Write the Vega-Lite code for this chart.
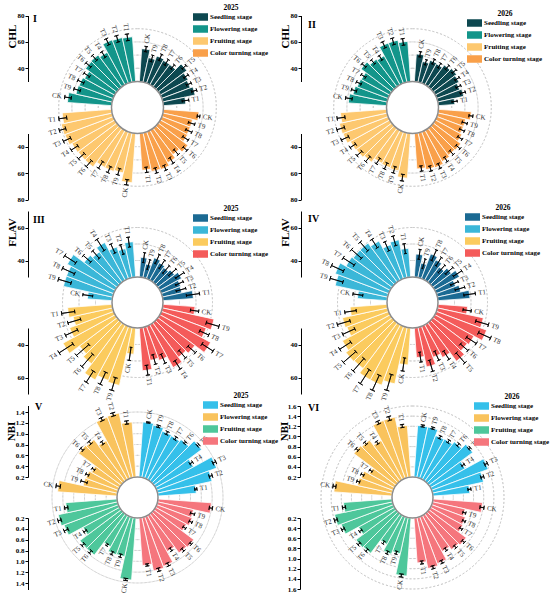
{
"$schema":"https://vega.github.io/schema/vega-lite/v6.json",
"padding":{"left":0,"top":4,"right":0,"bottom":0},
"background":"white",
"bounds":"flush",
"spacing":0,
"columns":2,
"resolve":{"scale":{"color":"independent","theta":"independent","radius":"independent","angle":"independent","x":"independent","y":"independent"},"legend":{"color":"independent"}},
"config":{"view":{"stroke":null},"font":"Liberation Serif",
"axis":{"domainColor":"black","domainWidth":1,"tickColor":"black","tickSize":3,"tickWidth":1,"labelFont":"Liberation Serif","labelFontWeight":"bold","labelFontSize":7,"labelColor":"black","labelPadding":1,"grid":false,"titleFont":"Liberation Serif","titleFontSize":11,"titleFontWeight":"bold","titleColor":"black","labelOverlap":false,"labelFlush":false,"titleAngle":-90,"titleAlign":"center","titleBaseline":"middle"},
"legend":{"labelFont":"Liberation Serif","labelFontWeight":"bold","labelFontSize":7,"labelColor":"black","titleFont":"Liberation Serif","titleFontWeight":"bold","titleFontSize":7.5,"titleColor":"black","titleAnchor":"middle","titlePadding":-2,"rowPadding":-4,"labelOffset":2,"padding":0,"symbolStrokeWidth":0,"symbolOpacity":1},
"title":{"font":"Liberation Serif","fontSize":10,"fontWeight":"bold","color":"black"},
"text":{"font":"Liberation Serif"}},
"datasets":{
"ringsCHL":[{"g":40},{"g":50},{"g":60},{"g":70}],
"ringsFLAV":[{"g":40},{"g":50},{"g":60}],
"ringsV":[{"g":0.4},{"g":0.6},{"g":0.8},{"g":1.0},{"g":1.2},{"g":1.4}],
"ringsVI":[{"g":0.4},{"g":0.6},{"g":0.8},{"g":1.0},{"g":1.2},{"g":1.4},{"g":1.6}],
"I":[
{"s":"Seedling stage","k":"SCK","t":"CK","v":55,"lo":53,"hi":57},
{"s":"Seedling stage","k":"ST9","t":"T9","v":49,"lo":46.5,"hi":51.5},
{"s":"Seedling stage","k":"ST8","t":"T8","v":52,"lo":49.5,"hi":54.5},
{"s":"Seedling stage","k":"ST7","t":"T7","v":51,"lo":48.5,"hi":53.5},
{"s":"Seedling stage","k":"ST6","t":"T6","v":51,"lo":49,"hi":53},
{"s":"Seedling stage","k":"ST5","t":"T5","v":57,"lo":55,"hi":59},
{"s":"Seedling stage","k":"ST4","t":"T4","v":54,"lo":52,"hi":56},
{"s":"Seedling stage","k":"ST3","t":"T3","v":53,"lo":51,"hi":55},
{"s":"Seedling stage","k":"ST2","t":"T2","v":55,"lo":53,"hi":57},
{"s":"Seedling stage","k":"ST1","t":"T1","v":47,"lo":44.5,"hi":49.5},
{"s":"Color turning stage","k":"CCK","t":"CK","v":57,"lo":56,"hi":58},
{"s":"Color turning stage","k":"CT9","t":"T9","v":53,"lo":50.5,"hi":55.5},
{"s":"Color turning stage","k":"CT8","t":"T8","v":53,"lo":50.5,"hi":55.5},
{"s":"Color turning stage","k":"CT7","t":"T7","v":53.5,"lo":51,"hi":56},
{"s":"Color turning stage","k":"CT6","t":"T6","v":58,"lo":56,"hi":60},
{"s":"Color turning stage","k":"CT5","t":"T5","v":55,"lo":52.5,"hi":57.5},
{"s":"Color turning stage","k":"CT4","t":"T4","v":58,"lo":55.5,"hi":60.5},
{"s":"Color turning stage","k":"CT3","t":"T3","v":60.5,"lo":58.5,"hi":62.5},
{"s":"Color turning stage","k":"CT2","t":"T2","v":60,"lo":58,"hi":62},
{"s":"Color turning stage","k":"CT1","t":"T1","v":58,"lo":56,"hi":60},
{"s":"Fruiting stage","k":"RCK","t":"CK","v":67.5,"lo":65.5,"hi":69.5},
{"s":"Fruiting stage","k":"RT9","t":"T9","v":61,"lo":58.5,"hi":63.5},
{"s":"Fruiting stage","k":"RT8","t":"T8","v":62,"lo":59.5,"hi":64.5},
{"s":"Fruiting stage","k":"RT7","t":"T7","v":62,"lo":59,"hi":65},
{"s":"Fruiting stage","k":"RT6","t":"T6","v":66.5,"lo":63.5,"hi":69.5},
{"s":"Fruiting stage","k":"RT5","t":"T5","v":66.5,"lo":63.5,"hi":69.5},
{"s":"Fruiting stage","k":"RT4","t":"T4","v":67,"lo":64,"hi":70},
{"s":"Fruiting stage","k":"RT3","t":"T3","v":69,"lo":66,"hi":72},
{"s":"Fruiting stage","k":"RT2","t":"T2","v":69.5,"lo":67,"hi":72},
{"s":"Fruiting stage","k":"RT1","t":"T1","v":67.5,"lo":64.5,"hi":70.5},
{"s":"Flowering stage","k":"FCK","t":"CK","v":63.5,"lo":61,"hi":66},
{"s":"Flowering stage","k":"FT9","t":"T9","v":58,"lo":55.5,"hi":60.5},
{"s":"Flowering stage","k":"FT8","t":"T8","v":57.5,"lo":55,"hi":60},
{"s":"Flowering stage","k":"FT7","t":"T7","v":56,"lo":53.5,"hi":58.5},
{"s":"Flowering stage","k":"FT6","t":"T6","v":59.5,"lo":57,"hi":62},
{"s":"Flowering stage","k":"FT5","t":"T5","v":60,"lo":57.5,"hi":62.5},
{"s":"Flowering stage","k":"FT4","t":"T4","v":58,"lo":55.5,"hi":60.5},
{"s":"Flowering stage","k":"FT3","t":"T3","v":65,"lo":62.5,"hi":67.5},
{"s":"Flowering stage","k":"FT2","t":"T2","v":64.5,"lo":62,"hi":67},
{"s":"Flowering stage","k":"FT1","t":"T1","v":64,"lo":61.5,"hi":66.5}
],
"II":[
{"s":"Seedling stage","k":"SCK","t":"CK","v":51,"lo":49,"hi":53},
{"s":"Seedling stage","k":"ST9","t":"T9","v":46,"lo":44,"hi":48},
{"s":"Seedling stage","k":"ST8","t":"T8","v":48.5,"lo":46.5,"hi":50.5},
{"s":"Seedling stage","k":"ST7","t":"T7","v":48,"lo":46,"hi":50},
{"s":"Seedling stage","k":"ST6","t":"T6","v":50.5,"lo":48.5,"hi":52.5},
{"s":"Seedling stage","k":"ST5","t":"T5","v":52,"lo":50,"hi":54},
{"s":"Seedling stage","k":"ST4","t":"T4","v":50.5,"lo":48.5,"hi":52.5},
{"s":"Seedling stage","k":"ST3","t":"T3","v":48.5,"lo":46.5,"hi":50.5},
{"s":"Seedling stage","k":"ST2","t":"T2","v":50,"lo":48,"hi":52},
{"s":"Seedling stage","k":"ST1","t":"T1","v":42.5,"lo":40.5,"hi":44.5},
{"s":"Color turning stage","k":"CCK","t":"CK","v":55,"lo":53.5,"hi":56.5},
{"s":"Color turning stage","k":"CT9","t":"T9","v":51.5,"lo":49.5,"hi":53.5},
{"s":"Color turning stage","k":"CT8","t":"T8","v":51.5,"lo":49.5,"hi":53.5},
{"s":"Color turning stage","k":"CT7","t":"T7","v":53,"lo":51,"hi":55},
{"s":"Color turning stage","k":"CT6","t":"T6","v":56,"lo":54,"hi":58},
{"s":"Color turning stage","k":"CT5","t":"T5","v":55.5,"lo":53.5,"hi":57.5},
{"s":"Color turning stage","k":"CT4","t":"T4","v":57,"lo":55,"hi":59},
{"s":"Color turning stage","k":"CT3","t":"T3","v":59,"lo":57,"hi":61},
{"s":"Color turning stage","k":"CT2","t":"T2","v":58.5,"lo":56.5,"hi":60.5},
{"s":"Color turning stage","k":"CT1","t":"T1","v":57,"lo":55,"hi":59},
{"s":"Fruiting stage","k":"RCK","t":"CK","v":64,"lo":61.5,"hi":66.5},
{"s":"Fruiting stage","k":"RT9","t":"T9","v":59.5,"lo":57,"hi":62},
{"s":"Fruiting stage","k":"RT8","t":"T8","v":59,"lo":56.5,"hi":61.5},
{"s":"Fruiting stage","k":"RT7","t":"T7","v":58.5,"lo":56,"hi":61},
{"s":"Fruiting stage","k":"RT6","t":"T6","v":62,"lo":59.5,"hi":64.5},
{"s":"Fruiting stage","k":"RT5","t":"T5","v":63.5,"lo":61,"hi":66},
{"s":"Fruiting stage","k":"RT4","t":"T4","v":64,"lo":61.5,"hi":66.5},
{"s":"Fruiting stage","k":"RT3","t":"T3","v":66.5,"lo":63.5,"hi":69.5},
{"s":"Fruiting stage","k":"RT2","t":"T2","v":67,"lo":64,"hi":70},
{"s":"Fruiting stage","k":"RT1","t":"T1","v":65,"lo":62,"hi":68},
{"s":"Flowering stage","k":"FCK","t":"CK","v":59,"lo":56.5,"hi":61.5},
{"s":"Flowering stage","k":"FT9","t":"T9","v":56.5,"lo":54.5,"hi":58.5},
{"s":"Flowering stage","k":"FT8","t":"T8","v":55,"lo":53,"hi":57},
{"s":"Flowering stage","k":"FT7","t":"T7","v":54.5,"lo":52.5,"hi":56.5},
{"s":"Flowering stage","k":"FT6","t":"T6","v":59,"lo":57,"hi":61},
{"s":"Flowering stage","k":"FT5","t":"T5","v":56,"lo":54,"hi":58},
{"s":"Flowering stage","k":"FT4","t":"T4","v":55,"lo":53,"hi":57},
{"s":"Flowering stage","k":"FT3","t":"T3","v":62.5,"lo":60,"hi":65},
{"s":"Flowering stage","k":"FT2","t":"T2","v":62.5,"lo":60,"hi":65},
{"s":"Flowering stage","k":"FT1","t":"T1","v":60.5,"lo":58,"hi":63}
],
"III":[
{"s":"Seedling stage","k":"SCK","t":"CK","v":42,"lo":39,"hi":45},
{"s":"Seedling stage","k":"ST9","t":"T9","v":38.5,"lo":35.5,"hi":41.5},
{"s":"Seedling stage","k":"ST8","t":"T8","v":43.5,"lo":40.5,"hi":46.5},
{"s":"Seedling stage","k":"ST7","t":"T7","v":42,"lo":39,"hi":45},
{"s":"Seedling stage","k":"ST6","t":"T6","v":41,"lo":38,"hi":44},
{"s":"Seedling stage","k":"ST5","t":"T5","v":42.5,"lo":39.5,"hi":45.5},
{"s":"Seedling stage","k":"ST4","t":"T4","v":45,"lo":42,"hi":48},
{"s":"Seedling stage","k":"ST3","t":"T3","v":42.5,"lo":40,"hi":45},
{"s":"Seedling stage","k":"ST2","t":"T2","v":42,"lo":39,"hi":45},
{"s":"Seedling stage","k":"ST1","t":"T1","v":48.5,"lo":44.5,"hi":52.5},
{"s":"Color turning stage","k":"CCK","t":"CK","v":49.5,"lo":47,"hi":52},
{"s":"Color turning stage","k":"CT9","t":"T9","v":62,"lo":58,"hi":66},
{"s":"Color turning stage","k":"CT8","t":"T8","v":59,"lo":56,"hi":62},
{"s":"Color turning stage","k":"CT7","t":"T7","v":65,"lo":61,"hi":69},
{"s":"Color turning stage","k":"CT6","t":"T6","v":58,"lo":55,"hi":61},
{"s":"Color turning stage","k":"CT5","t":"T5","v":56,"lo":53,"hi":59},
{"s":"Color turning stage","k":"CT4","t":"T4","v":59.5,"lo":56.5,"hi":62.5},
{"s":"Color turning stage","k":"CT3","t":"T3","v":52,"lo":49,"hi":55},
{"s":"Color turning stage","k":"CT2","t":"T2","v":50.5,"lo":47.5,"hi":53.5},
{"s":"Color turning stage","k":"CT1","t":"T1","v":56,"lo":53,"hi":59},
{"s":"Fruiting stage","k":"RCK","t":"CK","v":46,"lo":42,"hi":50},
{"s":"Fruiting stage","k":"RT9","t":"T9","v":66,"lo":62,"hi":70},
{"s":"Fruiting stage","k":"RT8","t":"T8","v":65,"lo":61,"hi":69},
{"s":"Fruiting stage","k":"RT7","t":"T7","v":68,"lo":64,"hi":72},
{"s":"Fruiting stage","k":"RT6","t":"T6","v":61,"lo":56,"hi":66},
{"s":"Fruiting stage","k":"RT5","t":"T5","v":58.5,"lo":53.5,"hi":63.5},
{"s":"Fruiting stage","k":"RT4","t":"T4","v":66,"lo":61,"hi":71},
{"s":"Fruiting stage","k":"RT3","t":"T3","v":58.5,"lo":54.5,"hi":62.5},
{"s":"Fruiting stage","k":"RT2","t":"T2","v":54.5,"lo":50.5,"hi":58.5},
{"s":"Fruiting stage","k":"RT1","t":"T1","v":57,"lo":53,"hi":61},
{"s":"Flowering stage","k":"FCK","t":"CK","v":45,"lo":42,"hi":48},
{"s":"Flowering stage","k":"FT9","t":"T9","v":60.5,"lo":56.5,"hi":64.5},
{"s":"Flowering stage","k":"FT8","t":"T8","v":60.5,"lo":56.5,"hi":64.5},
{"s":"Flowering stage","k":"FT7","t":"T7","v":63,"lo":59,"hi":67},
{"s":"Flowering stage","k":"FT6","t":"T6","v":55,"lo":52,"hi":58},
{"s":"Flowering stage","k":"FT5","t":"T5","v":53,"lo":50,"hi":56},
{"s":"Flowering stage","k":"FT4","t":"T4","v":56,"lo":52,"hi":60},
{"s":"Flowering stage","k":"FT3","t":"T3","v":50.5,"lo":47.5,"hi":53.5},
{"s":"Flowering stage","k":"FT2","t":"T2","v":48,"lo":45,"hi":51},
{"s":"Flowering stage","k":"FT1","t":"T1","v":51.5,"lo":48.5,"hi":54.5}
],
"IV":[
{"s":"Seedling stage","k":"SCK","t":"CK","v":44,"lo":41,"hi":47},
{"s":"Seedling stage","k":"ST9","t":"T9","v":39,"lo":36,"hi":42},
{"s":"Seedling stage","k":"ST8","t":"T8","v":46,"lo":42.5,"hi":49.5},
{"s":"Seedling stage","k":"ST7","t":"T7","v":44,"lo":41,"hi":47},
{"s":"Seedling stage","k":"ST6","t":"T6","v":41.5,"lo":38.5,"hi":44.5},
{"s":"Seedling stage","k":"ST5","t":"T5","v":44,"lo":41,"hi":47},
{"s":"Seedling stage","k":"ST4","t":"T4","v":47,"lo":44,"hi":50},
{"s":"Seedling stage","k":"ST3","t":"T3","v":42.5,"lo":40,"hi":45},
{"s":"Seedling stage","k":"ST2","t":"T2","v":44.5,"lo":41.5,"hi":47.5},
{"s":"Seedling stage","k":"ST1","t":"T1","v":49.5,"lo":46,"hi":53},
{"s":"Color turning stage","k":"CCK","t":"CK","v":48,"lo":45.5,"hi":50.5},
{"s":"Color turning stage","k":"CT9","t":"T9","v":58.5,"lo":54.5,"hi":62.5},
{"s":"Color turning stage","k":"CT8","t":"T8","v":62.5,"lo":58.5,"hi":66.5},
{"s":"Color turning stage","k":"CT7","t":"T7","v":57,"lo":53.5,"hi":60.5},
{"s":"Color turning stage","k":"CT6","t":"T6","v":56,"lo":53,"hi":59},
{"s":"Color turning stage","k":"CT5","t":"T5","v":59,"lo":55,"hi":63},
{"s":"Color turning stage","k":"CT4","t":"T4","v":52.5,"lo":49.5,"hi":55.5},
{"s":"Color turning stage","k":"CT3","t":"T3","v":50,"lo":47,"hi":53},
{"s":"Color turning stage","k":"CT2","t":"T2","v":54.5,"lo":51,"hi":58},
{"s":"Color turning stage","k":"CT1","t":"T1","v":48,"lo":45,"hi":51},
{"s":"Fruiting stage","k":"RCK","t":"CK","v":52.5,"lo":48.5,"hi":56.5},
{"s":"Fruiting stage","k":"RT9","t":"T9","v":65,"lo":60,"hi":70},
{"s":"Fruiting stage","k":"RT8","t":"T8","v":68,"lo":63,"hi":73},
{"s":"Fruiting stage","k":"RT7","t":"T7","v":68,"lo":63,"hi":73},
{"s":"Fruiting stage","k":"RT6","t":"T6","v":64.5,"lo":59.5,"hi":69.5},
{"s":"Fruiting stage","k":"RT5","t":"T5","v":65,"lo":60,"hi":70},
{"s":"Fruiting stage","k":"RT4","t":"T4","v":63,"lo":59,"hi":67},
{"s":"Fruiting stage","k":"RT3","t":"T3","v":57,"lo":53,"hi":61},
{"s":"Fruiting stage","k":"RT2","t":"T2","v":58,"lo":54,"hi":62},
{"s":"Fruiting stage","k":"RT1","t":"T1","v":52.5,"lo":49,"hi":56},
{"s":"Flowering stage","k":"FCK","t":"CK","v":48,"lo":45,"hi":51},
{"s":"Flowering stage","k":"FT9","t":"T9","v":62.5,"lo":58.5,"hi":66.5},
{"s":"Flowering stage","k":"FT8","t":"T8","v":64.5,"lo":60.5,"hi":68.5},
{"s":"Flowering stage","k":"FT7","t":"T7","v":60.5,"lo":56.5,"hi":64.5},
{"s":"Flowering stage","k":"FT6","t":"T6","v":59.5,"lo":55.5,"hi":63.5},
{"s":"Flowering stage","k":"FT5","t":"T5","v":59.5,"lo":56,"hi":63},
{"s":"Flowering stage","k":"FT4","t":"T4","v":57,"lo":54,"hi":60},
{"s":"Flowering stage","k":"FT3","t":"T3","v":52,"lo":49,"hi":55},
{"s":"Flowering stage","k":"FT2","t":"T2","v":53.5,"lo":50.5,"hi":56.5},
{"s":"Flowering stage","k":"FT1","t":"T1","v":47.5,"lo":44.5,"hi":50.5}
],
"V":[
{"s":"Seedling stage","k":"SCK","t":"CK","v":1.22,"lo":1.21,"hi":1.23},
{"s":"Seedling stage","k":"ST9","t":"T9","v":1.19,"lo":1.17,"hi":1.21},
{"s":"Seedling stage","k":"ST8","t":"T8","v":1.13,"lo":1.1,"hi":1.16},
{"s":"Seedling stage","k":"ST7","t":"T7","v":1.12,"lo":1.09,"hi":1.15},
{"s":"Seedling stage","k":"ST6","t":"T6","v":1.16,"lo":1.14,"hi":1.18},
{"s":"Seedling stage","k":"ST5","t":"T5","v":1.3,"lo":1.28,"hi":1.32},
{"s":"Seedling stage","k":"ST4","t":"T4","v":1.0,"lo":0.97,"hi":1.03},
{"s":"Seedling stage","k":"ST3","t":"T3","v":1.38,"lo":1.35,"hi":1.41},
{"s":"Seedling stage","k":"ST2","t":"T2","v":1.23,"lo":1.2,"hi":1.26},
{"s":"Seedling stage","k":"ST1","t":"T1","v":0.91,"lo":0.89,"hi":0.93},
{"s":"Color turning stage","k":"CCK","t":"CK","v":1.19,"lo":1.16,"hi":1.22},
{"s":"Color turning stage","k":"CT9","t":"T9","v":0.88,"lo":0.84,"hi":0.92},
{"s":"Color turning stage","k":"CT8","t":"T8","v":0.9,"lo":0.87,"hi":0.93},
{"s":"Color turning stage","k":"CT7","t":"T7","v":0.85,"lo":0.82,"hi":0.88},
{"s":"Color turning stage","k":"CT6","t":"T6","v":1.12,"lo":1.1,"hi":1.14},
{"s":"Color turning stage","k":"CT5","t":"T5","v":1.1,"lo":1.07,"hi":1.13},
{"s":"Color turning stage","k":"CT4","t":"T4","v":0.96,"lo":0.93,"hi":0.99},
{"s":"Color turning stage","k":"CT3","t":"T3","v":1.18,"lo":1.15,"hi":1.21},
{"s":"Color turning stage","k":"CT2","t":"T2","v":1.21,"lo":1.18,"hi":1.24},
{"s":"Color turning stage","k":"CT1","t":"T1","v":1.08,"lo":1.06,"hi":1.1},
{"s":"Fruiting stage","k":"RCK","t":"CK","v":1.35,"lo":1.33,"hi":1.37},
{"s":"Fruiting stage","k":"RT9","t":"T9","v":0.94,"lo":0.91,"hi":0.97},
{"s":"Fruiting stage","k":"RT8","t":"T8","v":0.95,"lo":0.92,"hi":0.98},
{"s":"Fruiting stage","k":"RT7","t":"T7","v":0.86,"lo":0.84,"hi":0.88},
{"s":"Fruiting stage","k":"RT6","t":"T6","v":1.15,"lo":1.12,"hi":1.18},
{"s":"Fruiting stage","k":"RT5","t":"T5","v":1.15,"lo":1.12,"hi":1.18},
{"s":"Fruiting stage","k":"RT4","t":"T4","v":0.97,"lo":0.94,"hi":1.0},
{"s":"Fruiting stage","k":"RT3","t":"T3","v":1.27,"lo":1.23,"hi":1.31},
{"s":"Fruiting stage","k":"RT2","t":"T2","v":1.32,"lo":1.29,"hi":1.35},
{"s":"Fruiting stage","k":"RT1","t":"T1","v":1.15,"lo":1.12,"hi":1.18},
{"s":"Flowering stage","k":"FCK","t":"CK","v":1.3,"lo":1.26,"hi":1.34},
{"s":"Flowering stage","k":"FT9","t":"T9","v":0.85,"lo":0.79,"hi":0.91},
{"s":"Flowering stage","k":"FT8","t":"T8","v":0.84,"lo":0.81,"hi":0.87},
{"s":"Flowering stage","k":"FT7","t":"T7","v":0.79,"lo":0.76,"hi":0.82},
{"s":"Flowering stage","k":"FT6","t":"T6","v":1.18,"lo":1.15,"hi":1.21},
{"s":"Flowering stage","k":"FT5","t":"T5","v":1.16,"lo":1.13,"hi":1.19},
{"s":"Flowering stage","k":"FT4","t":"T4","v":1.02,"lo":0.99,"hi":1.05},
{"s":"Flowering stage","k":"FT3","t":"T3","v":1.41,"lo":1.38,"hi":1.44},
{"s":"Flowering stage","k":"FT2","t":"T2","v":1.42,"lo":1.39,"hi":1.45},
{"s":"Flowering stage","k":"FT1","t":"T1","v":1.22,"lo":1.19,"hi":1.25}
],
"VI":[
{"s":"Seedling stage","k":"SCK","t":"CK","v":1.22,"lo":1.2,"hi":1.24},
{"s":"Seedling stage","k":"ST9","t":"T9","v":1.22,"lo":1.2,"hi":1.24},
{"s":"Seedling stage","k":"ST8","t":"T8","v":1.1,"lo":1.07,"hi":1.13},
{"s":"Seedling stage","k":"ST7","t":"T7","v":1.11,"lo":1.08,"hi":1.14},
{"s":"Seedling stage","k":"ST6","t":"T6","v":1.17,"lo":1.14,"hi":1.2},
{"s":"Seedling stage","k":"ST5","t":"T5","v":1.28,"lo":1.26,"hi":1.3},
{"s":"Seedling stage","k":"ST4","t":"T4","v":0.98,"lo":0.95,"hi":1.01},
{"s":"Seedling stage","k":"ST3","t":"T3","v":1.39,"lo":1.36,"hi":1.42},
{"s":"Seedling stage","k":"ST2","t":"T2","v":1.23,"lo":1.2,"hi":1.26},
{"s":"Seedling stage","k":"ST1","t":"T1","v":0.93,"lo":0.9,"hi":0.96},
{"s":"Color turning stage","k":"CCK","t":"CK","v":1.18,"lo":1.14,"hi":1.22},
{"s":"Color turning stage","k":"CT9","t":"T9","v":0.86,"lo":0.83,"hi":0.89},
{"s":"Color turning stage","k":"CT8","t":"T8","v":0.91,"lo":0.88,"hi":0.94},
{"s":"Color turning stage","k":"CT7","t":"T7","v":0.93,"lo":0.9,"hi":0.96},
{"s":"Color turning stage","k":"CT6","t":"T6","v":1.12,"lo":1.09,"hi":1.15},
{"s":"Color turning stage","k":"CT5","t":"T5","v":1.08,"lo":1.05,"hi":1.11},
{"s":"Color turning stage","k":"CT4","t":"T4","v":1.01,"lo":0.98,"hi":1.04},
{"s":"Color turning stage","k":"CT3","t":"T3","v":1.19,"lo":1.16,"hi":1.22},
{"s":"Color turning stage","k":"CT2","t":"T2","v":1.23,"lo":1.2,"hi":1.26},
{"s":"Color turning stage","k":"CT1","t":"T1","v":1.09,"lo":1.06,"hi":1.12},
{"s":"Fruiting stage","k":"RCK","t":"CK","v":1.35,"lo":1.32,"hi":1.38},
{"s":"Fruiting stage","k":"RT9","t":"T9","v":0.93,"lo":0.9,"hi":0.96},
{"s":"Fruiting stage","k":"RT8","t":"T8","v":0.99,"lo":0.96,"hi":1.02},
{"s":"Fruiting stage","k":"RT7","t":"T7","v":0.85,"lo":0.82,"hi":0.88},
{"s":"Fruiting stage","k":"RT6","t":"T6","v":1.17,"lo":1.14,"hi":1.2},
{"s":"Fruiting stage","k":"RT5","t":"T5","v":1.19,"lo":1.16,"hi":1.22},
{"s":"Fruiting stage","k":"RT4","t":"T4","v":1.01,"lo":0.98,"hi":1.04},
{"s":"Fruiting stage","k":"RT3","t":"T3","v":1.3,"lo":1.27,"hi":1.33},
{"s":"Fruiting stage","k":"RT2","t":"T2","v":1.37,"lo":1.34,"hi":1.4},
{"s":"Fruiting stage","k":"RT1","t":"T1","v":1.16,"lo":1.13,"hi":1.19},
{"s":"Flowering stage","k":"FCK","t":"CK","v":1.35,"lo":1.32,"hi":1.38},
{"s":"Flowering stage","k":"FT9","t":"T9","v":0.91,"lo":0.88,"hi":0.94},
{"s":"Flowering stage","k":"FT8","t":"T8","v":0.88,"lo":0.85,"hi":0.91},
{"s":"Flowering stage","k":"FT7","t":"T7","v":0.77,"lo":0.74,"hi":0.8},
{"s":"Flowering stage","k":"FT6","t":"T6","v":1.24,"lo":1.21,"hi":1.27},
{"s":"Flowering stage","k":"FT5","t":"T5","v":1.21,"lo":1.18,"hi":1.24},
{"s":"Flowering stage","k":"FT4","t":"T4","v":1.08,"lo":1.05,"hi":1.11},
{"s":"Flowering stage","k":"FT3","t":"T3","v":1.42,"lo":1.39,"hi":1.45},
{"s":"Flowering stage","k":"FT2","t":"T2","v":1.42,"lo":1.38,"hi":1.46},
{"s":"Flowering stage","k":"FT1","t":"T1","v":1.22,"lo":1.19,"hi":1.25}
]
},
"concat":[
{"width":275,"height":195,"data":{"name":"I"},
"title":{"text":"I","anchor":"start","frame":"group","orient":"top","offset":-20,"dx":33},
"layer":[
{"data":{"name":"ringsCHL"},"mark":{"type":"arc","fillOpacity":0,"stroke":"#c4c4c4","strokeWidth":0.7,"strokeDash":[2,2]},"encoding":{"theta":{"value":0},"theta2":{"value":6.2832},"radius":{"field":"g","type":"quantitative","stack":null,"scale":{"type":"linear","domain":[30,80],"range":[26,92],"zero":false,"nice":false}},"radius2":{"field":"g"}}},
{"mark":{"type":"arc","stroke":"white","strokeWidth":0.8},"encoding":{"theta":{"field":"k","type":"nominal","scale":{"type":"band","domain":["g0","SCK","ST9","ST8","ST7","ST6","ST5","ST4","ST3","ST2","ST1","g1","CCK","CT9","CT8","CT7","CT6","CT5","CT4","CT3","CT2","CT1","g2","RCK","RT9","RT8","RT7","RT6","RT5","RT4","RT3","RT2","RT1","g3","FCK","FT9","FT8","FT7","FT6","FT5","FT4","FT3","FT2","FT1"],"range":[-0.0714,6.2118],"paddingInner":0,"paddingOuter":0}},"radius":{"field":"v","type":"quantitative","stack":null,"scale":{"type":"linear","domain":[30,80],"range":[26,92],"zero":false,"nice":false}},"radius2":{"value":26},
"color":{"field":"s","type":"nominal","scale":{"domain":["Seedling stage","Flowering stage","Fruiting stage","Color turning stage"],"range":["#0d4850","#13958a","#fdc86f","#f9a04a"]},"legend":{"orient":"none","legendX":193,"legendY":-6,"title":"2025","symbolType":"M-1,-0.5H1V0.5H-1Z","symbolSize":225}}}},
{"mark":{"type":"arc","padAngle":0.6,"stroke":"black","strokeWidth":0.8,"fill":"black"},"encoding":{"theta":{"field":"k","type":"nominal"},"radius":{"field":"lo","type":"quantitative","stack":null},"radius2":{"field":"hi"}}},
{"mark":{"type":"arc","padAngle":0.06,"stroke":"black","strokeWidth":0.8,"fillOpacity":0},"encoding":{"theta":{"field":"k","type":"nominal"},"radius":{"field":"lo","type":"quantitative","stack":null},"radius2":{"field":"lo"}}},
{"mark":{"type":"arc","padAngle":0.06,"stroke":"black","strokeWidth":0.8,"fillOpacity":0},"encoding":{"theta":{"field":"k","type":"nominal"},"radius":{"field":"hi","type":"quantitative","stack":null},"radius2":{"field":"hi"}}},
{"transform":[{"filter":"datum.s == 'Seedling stage' || datum.s == 'Color turning stage'"}],"mark":{"type":"text","align":"left","baseline":"middle","radiusOffset":3,"fontSize":7,"fill":"#333"},"encoding":{"theta":{"field":"k","type":"nominal"},"radius":{"field":"hi","type":"quantitative","stack":null},"angle":{"field":"k","type":"ordinal","scale":{"type":"point","domain":["g0","SCK","ST9","ST8","ST7","ST6","ST5","ST4","ST3","ST2","ST1","g1","CCK","CT9","CT8","CT7","CT6","CT5","CT4","CT3","CT2","CT1","g2","RCK","RT9","RT8","RT7","RT6","RT5","RT4","RT3","RT2","RT1","g3","FCK","FT9","FT8","FT7","FT6","FT5","FT4","FT3","FT2","FT1"],"range":[-94.09,265.91],"padding":0.5}},"text":{"field":"t"}}},
{"transform":[{"filter":"datum.s == 'Fruiting stage' || datum.s == 'Flowering stage'"}],"mark":{"type":"text","align":"right","baseline":"middle","radiusOffset":3,"fontSize":7,"fill":"#333"},"encoding":{"theta":{"field":"k","type":"nominal"},"radius":{"field":"hi","type":"quantitative","stack":null},"angle":{"field":"k","type":"ordinal","scale":{"type":"point","domain":["g0","SCK","ST9","ST8","ST7","ST6","ST5","ST4","ST3","ST2","ST1","g1","CCK","CT9","CT8","CT7","CT6","CT5","CT4","CT3","CT2","CT1","g2","RCK","RT9","RT8","RT7","RT6","RT5","RT4","RT3","RT2","RT1","g3","FCK","FT9","FT8","FT7","FT6","FT5","FT4","FT3","FT2","FT1"],"range":[-274.09,85.91],"padding":0.5}},"text":{"field":"t"}}},
{"data":{"values":[{"h":1}]},"mark":{"type":"arc","fill":"white","stroke":"#8c8c8c","strokeWidth":1.5},"encoding":{"theta":{"value":0},"theta2":{"value":6.2832},"radius":{"value":26}}},
{"mark":{"type":"point","opacity":0},"encoding":{"x":{"field":"v","type":"quantitative","axis":null},"y":{"field":"v","type":"quantitative","scale":{"domain":[30,80],"range":[71.5,5.5],"zero":false,"nice":false},"axis":{"orient":"left","offset":-28,"values":[40,60,80],"title":"CHL","titleX":-16,"titleY":26}}}},
{"mark":{"type":"point","opacity":0},"encoding":{"x":{"field":"v","type":"quantitative","axis":null},"y":{"field":"v","type":"quantitative","scale":{"domain":[30,80],"range":[123.5,189.5],"zero":false,"nice":false},"axis":{"orient":"left","offset":-28,"values":[40,60,80],"title":null}}}}
],
"resolve":{"scale":{"y":"independent","angle":"independent"},"axis":{"y":"independent"}}},
{"width":275,"height":195,"data":{"name":"II"},
"title":{"text":"II","anchor":"start","frame":"group","orient":"top","offset":-20,"dx":33},
"layer":[
{"data":{"name":"ringsCHL"},"mark":{"type":"arc","fillOpacity":0,"stroke":"#c4c4c4","strokeWidth":0.7,"strokeDash":[2,2]},"encoding":{"theta":{"value":0},"theta2":{"value":6.2832},"radius":{"field":"g","type":"quantitative","stack":null,"scale":{"type":"linear","domain":[30,80],"range":[26,92],"zero":false,"nice":false}},"radius2":{"field":"g"}}},
{"mark":{"type":"arc","stroke":"white","strokeWidth":0.8},"encoding":{"theta":{"field":"k","type":"nominal","scale":{"type":"band","domain":["g0","SCK","ST9","ST8","ST7","ST6","ST5","ST4","ST3","ST2","ST1","g1","CCK","CT9","CT8","CT7","CT6","CT5","CT4","CT3","CT2","CT1","g2","RCK","RT9","RT8","RT7","RT6","RT5","RT4","RT3","RT2","RT1","g3","FCK","FT9","FT8","FT7","FT6","FT5","FT4","FT3","FT2","FT1"],"range":[-0.0714,6.2118],"paddingInner":0,"paddingOuter":0}},"radius":{"field":"v","type":"quantitative","stack":null,"scale":{"type":"linear","domain":[30,80],"range":[26,92],"zero":false,"nice":false}},"radius2":{"value":26},
"color":{"field":"s","type":"nominal","scale":{"domain":["Seedling stage","Flowering stage","Fruiting stage","Color turning stage"],"range":["#0d4850","#13958a","#fdc86f","#f9a04a"]},"legend":{"orient":"none","legendX":192,"legendY":0,"title":"2026","symbolType":"M-1,-0.5H1V0.5H-1Z","symbolSize":225}}}},
{"mark":{"type":"arc","padAngle":0.6,"stroke":"black","strokeWidth":0.8,"fill":"black"},"encoding":{"theta":{"field":"k","type":"nominal"},"radius":{"field":"lo","type":"quantitative","stack":null},"radius2":{"field":"hi"}}},
{"mark":{"type":"arc","padAngle":0.06,"stroke":"black","strokeWidth":0.8,"fillOpacity":0},"encoding":{"theta":{"field":"k","type":"nominal"},"radius":{"field":"lo","type":"quantitative","stack":null},"radius2":{"field":"lo"}}},
{"mark":{"type":"arc","padAngle":0.06,"stroke":"black","strokeWidth":0.8,"fillOpacity":0},"encoding":{"theta":{"field":"k","type":"nominal"},"radius":{"field":"hi","type":"quantitative","stack":null},"radius2":{"field":"hi"}}},
{"transform":[{"filter":"datum.s == 'Seedling stage' || datum.s == 'Color turning stage'"}],"mark":{"type":"text","align":"left","baseline":"middle","radiusOffset":3,"fontSize":7,"fill":"#333"},"encoding":{"theta":{"field":"k","type":"nominal"},"radius":{"field":"hi","type":"quantitative","stack":null},"angle":{"field":"k","type":"ordinal","scale":{"type":"point","domain":["g0","SCK","ST9","ST8","ST7","ST6","ST5","ST4","ST3","ST2","ST1","g1","CCK","CT9","CT8","CT7","CT6","CT5","CT4","CT3","CT2","CT1","g2","RCK","RT9","RT8","RT7","RT6","RT5","RT4","RT3","RT2","RT1","g3","FCK","FT9","FT8","FT7","FT6","FT5","FT4","FT3","FT2","FT1"],"range":[-94.09,265.91],"padding":0.5}},"text":{"field":"t"}}},
{"transform":[{"filter":"datum.s == 'Fruiting stage' || datum.s == 'Flowering stage'"}],"mark":{"type":"text","align":"right","baseline":"middle","radiusOffset":3,"fontSize":7,"fill":"#333"},"encoding":{"theta":{"field":"k","type":"nominal"},"radius":{"field":"hi","type":"quantitative","stack":null},"angle":{"field":"k","type":"ordinal","scale":{"type":"point","domain":["g0","SCK","ST9","ST8","ST7","ST6","ST5","ST4","ST3","ST2","ST1","g1","CCK","CT9","CT8","CT7","CT6","CT5","CT4","CT3","CT2","CT1","g2","RCK","RT9","RT8","RT7","RT6","RT5","RT4","RT3","RT2","RT1","g3","FCK","FT9","FT8","FT7","FT6","FT5","FT4","FT3","FT2","FT1"],"range":[-274.09,85.91],"padding":0.5}},"text":{"field":"t"}}},
{"data":{"values":[{"h":1}]},"mark":{"type":"arc","fill":"white","stroke":"#8c8c8c","strokeWidth":1.5},"encoding":{"theta":{"value":0},"theta2":{"value":6.2832},"radius":{"value":26}}},
{"mark":{"type":"point","opacity":0},"encoding":{"x":{"field":"v","type":"quantitative","axis":null},"y":{"field":"v","type":"quantitative","scale":{"domain":[30,80],"range":[71.5,5.5],"zero":false,"nice":false},"axis":{"orient":"left","offset":-26,"values":[40,60,80],"title":"CHL","titleX":-16,"titleY":26}}}},
{"mark":{"type":"point","opacity":0},"encoding":{"x":{"field":"v","type":"quantitative","axis":null},"y":{"field":"v","type":"quantitative","scale":{"domain":[30,80],"range":[123.5,189.5],"zero":false,"nice":false},"axis":{"orient":"left","offset":-26,"values":[40,60,80],"title":null}}}}
],
"resolve":{"scale":{"y":"independent","angle":"independent"},"axis":{"y":"independent"}}},
{"width":275,"height":195,"data":{"name":"III"},
"title":{"text":"III","anchor":"start","frame":"group","orient":"top","offset":-20,"dx":33},
"layer":[
{"data":{"name":"ringsFLAV"},"mark":{"type":"arc","fillOpacity":0,"stroke":"#c4c4c4","strokeWidth":0.7,"strokeDash":[2,2]},"encoding":{"theta":{"value":0},"theta2":{"value":6.2832},"radius":{"field":"g","type":"quantitative","stack":null,"scale":{"type":"linear","domain":[30,70],"range":[25.5,91.5],"zero":false,"nice":false}},"radius2":{"field":"g"}}},
{"mark":{"type":"arc","stroke":"white","strokeWidth":0.8},"encoding":{"theta":{"field":"k","type":"nominal","scale":{"type":"band","domain":["g0","SCK","ST9","ST8","ST7","ST6","ST5","ST4","ST3","ST2","ST1","g1","CCK","CT9","CT8","CT7","CT6","CT5","CT4","CT3","CT2","CT1","g2","RCK","RT9","RT8","RT7","RT6","RT5","RT4","RT3","RT2","RT1","g3","FCK","FT9","FT8","FT7","FT6","FT5","FT4","FT3","FT2","FT1"],"range":[-0.0714,6.2118],"paddingInner":0,"paddingOuter":0}},"radius":{"field":"v","type":"quantitative","stack":null,"scale":{"type":"linear","domain":[30,70],"range":[25.5,91.5],"zero":false,"nice":false}},"radius2":{"value":25.5},
"color":{"field":"s","type":"nominal","scale":{"domain":["Seedling stage","Flowering stage","Fruiting stage","Color turning stage"],"range":["#1b6a93","#3bb7d8","#fbcb5e","#f45b5a"]},"legend":{"orient":"none","legendX":193,"legendY":0,"title":"2025","symbolType":"M-1,-0.5H1V0.5H-1Z","symbolSize":225}}}},
{"mark":{"type":"arc","padAngle":0.6,"stroke":"black","strokeWidth":0.8,"fill":"black"},"encoding":{"theta":{"field":"k","type":"nominal"},"radius":{"field":"lo","type":"quantitative","stack":null},"radius2":{"field":"hi"}}},
{"mark":{"type":"arc","padAngle":0.06,"stroke":"black","strokeWidth":0.8,"fillOpacity":0},"encoding":{"theta":{"field":"k","type":"nominal"},"radius":{"field":"lo","type":"quantitative","stack":null},"radius2":{"field":"lo"}}},
{"mark":{"type":"arc","padAngle":0.06,"stroke":"black","strokeWidth":0.8,"fillOpacity":0},"encoding":{"theta":{"field":"k","type":"nominal"},"radius":{"field":"hi","type":"quantitative","stack":null},"radius2":{"field":"hi"}}},
{"transform":[{"filter":"datum.s == 'Seedling stage' || datum.s == 'Color turning stage'"}],"mark":{"type":"text","align":"left","baseline":"middle","radiusOffset":3,"fontSize":7,"fill":"#333"},"encoding":{"theta":{"field":"k","type":"nominal"},"radius":{"field":"hi","type":"quantitative","stack":null},"angle":{"field":"k","type":"ordinal","scale":{"type":"point","domain":["g0","SCK","ST9","ST8","ST7","ST6","ST5","ST4","ST3","ST2","ST1","g1","CCK","CT9","CT8","CT7","CT6","CT5","CT4","CT3","CT2","CT1","g2","RCK","RT9","RT8","RT7","RT6","RT5","RT4","RT3","RT2","RT1","g3","FCK","FT9","FT8","FT7","FT6","FT5","FT4","FT3","FT2","FT1"],"range":[-94.09,265.91],"padding":0.5}},"text":{"field":"t"}}},
{"transform":[{"filter":"datum.s == 'Fruiting stage' || datum.s == 'Flowering stage'"}],"mark":{"type":"text","align":"right","baseline":"middle","radiusOffset":3,"fontSize":7,"fill":"#333"},"encoding":{"theta":{"field":"k","type":"nominal"},"radius":{"field":"hi","type":"quantitative","stack":null},"angle":{"field":"k","type":"ordinal","scale":{"type":"point","domain":["g0","SCK","ST9","ST8","ST7","ST6","ST5","ST4","ST3","ST2","ST1","g1","CCK","CT9","CT8","CT7","CT6","CT5","CT4","CT3","CT2","CT1","g2","RCK","RT9","RT8","RT7","RT6","RT5","RT4","RT3","RT2","RT1","g3","FCK","FT9","FT8","FT7","FT6","FT5","FT4","FT3","FT2","FT1"],"range":[-274.09,85.91],"padding":0.5}},"text":{"field":"t"}}},
{"data":{"values":[{"h":1}]},"mark":{"type":"arc","fill":"white","stroke":"#8c8c8c","strokeWidth":1.5},"encoding":{"theta":{"value":0},"theta2":{"value":6.2832},"radius":{"value":25.5}}},
{"mark":{"type":"point","opacity":0},"encoding":{"x":{"field":"v","type":"quantitative","axis":null},"y":{"field":"v","type":"quantitative","scale":{"domain":[30,70],"range":[72,6],"zero":false,"nice":false},"axis":{"orient":"left","offset":-28,"values":[40,60],"title":"FLAV","titleX":-16,"titleY":27}}}},
{"mark":{"type":"point","opacity":0},"encoding":{"x":{"field":"v","type":"quantitative","axis":null},"y":{"field":"v","type":"quantitative","scale":{"domain":[30,70],"range":[123,189],"zero":false,"nice":false},"axis":{"orient":"left","offset":-28,"values":[40,60],"title":null}}}}
],
"resolve":{"scale":{"y":"independent","angle":"independent"},"axis":{"y":"independent"}}},
{"width":275,"height":195,"data":{"name":"IV"},
"title":{"text":"IV","anchor":"start","frame":"group","orient":"top","offset":-20,"dx":33},
"layer":[
{"data":{"name":"ringsFLAV"},"mark":{"type":"arc","fillOpacity":0,"stroke":"#c4c4c4","strokeWidth":0.7,"strokeDash":[2,2]},"encoding":{"theta":{"value":0},"theta2":{"value":6.2832},"radius":{"field":"g","type":"quantitative","stack":null,"scale":{"type":"linear","domain":[30,70],"range":[25.5,91.5],"zero":false,"nice":false}},"radius2":{"field":"g"}}},
{"mark":{"type":"arc","stroke":"white","strokeWidth":0.8},"encoding":{"theta":{"field":"k","type":"nominal","scale":{"type":"band","domain":["g0","SCK","ST9","ST8","ST7","ST6","ST5","ST4","ST3","ST2","ST1","g1","CCK","CT9","CT8","CT7","CT6","CT5","CT4","CT3","CT2","CT1","g2","RCK","RT9","RT8","RT7","RT6","RT5","RT4","RT3","RT2","RT1","g3","FCK","FT9","FT8","FT7","FT6","FT5","FT4","FT3","FT2","FT1"],"range":[-0.0714,6.2118],"paddingInner":0,"paddingOuter":0}},"radius":{"field":"v","type":"quantitative","stack":null,"scale":{"type":"linear","domain":[30,70],"range":[25.5,91.5],"zero":false,"nice":false}},"radius2":{"value":25.5},
"color":{"field":"s","type":"nominal","scale":{"domain":["Seedling stage","Flowering stage","Fruiting stage","Color turning stage"],"range":["#1b6a93","#3bb7d8","#fbcb5e","#f45b5a"]},"legend":{"orient":"none","legendX":190,"legendY":-1,"title":"2026","symbolType":"M-1,-0.5H1V0.5H-1Z","symbolSize":225}}}},
{"mark":{"type":"arc","padAngle":0.6,"stroke":"black","strokeWidth":0.8,"fill":"black"},"encoding":{"theta":{"field":"k","type":"nominal"},"radius":{"field":"lo","type":"quantitative","stack":null},"radius2":{"field":"hi"}}},
{"mark":{"type":"arc","padAngle":0.06,"stroke":"black","strokeWidth":0.8,"fillOpacity":0},"encoding":{"theta":{"field":"k","type":"nominal"},"radius":{"field":"lo","type":"quantitative","stack":null},"radius2":{"field":"lo"}}},
{"mark":{"type":"arc","padAngle":0.06,"stroke":"black","strokeWidth":0.8,"fillOpacity":0},"encoding":{"theta":{"field":"k","type":"nominal"},"radius":{"field":"hi","type":"quantitative","stack":null},"radius2":{"field":"hi"}}},
{"transform":[{"filter":"datum.s == 'Seedling stage' || datum.s == 'Color turning stage'"}],"mark":{"type":"text","align":"left","baseline":"middle","radiusOffset":3,"fontSize":7,"fill":"#333"},"encoding":{"theta":{"field":"k","type":"nominal"},"radius":{"field":"hi","type":"quantitative","stack":null},"angle":{"field":"k","type":"ordinal","scale":{"type":"point","domain":["g0","SCK","ST9","ST8","ST7","ST6","ST5","ST4","ST3","ST2","ST1","g1","CCK","CT9","CT8","CT7","CT6","CT5","CT4","CT3","CT2","CT1","g2","RCK","RT9","RT8","RT7","RT6","RT5","RT4","RT3","RT2","RT1","g3","FCK","FT9","FT8","FT7","FT6","FT5","FT4","FT3","FT2","FT1"],"range":[-94.09,265.91],"padding":0.5}},"text":{"field":"t"}}},
{"transform":[{"filter":"datum.s == 'Fruiting stage' || datum.s == 'Flowering stage'"}],"mark":{"type":"text","align":"right","baseline":"middle","radiusOffset":3,"fontSize":7,"fill":"#333"},"encoding":{"theta":{"field":"k","type":"nominal"},"radius":{"field":"hi","type":"quantitative","stack":null},"angle":{"field":"k","type":"ordinal","scale":{"type":"point","domain":["g0","SCK","ST9","ST8","ST7","ST6","ST5","ST4","ST3","ST2","ST1","g1","CCK","CT9","CT8","CT7","CT6","CT5","CT4","CT3","CT2","CT1","g2","RCK","RT9","RT8","RT7","RT6","RT5","RT4","RT3","RT2","RT1","g3","FCK","FT9","FT8","FT7","FT6","FT5","FT4","FT3","FT2","FT1"],"range":[-274.09,85.91],"padding":0.5}},"text":{"field":"t"}}},
{"data":{"values":[{"h":1}]},"mark":{"type":"arc","fill":"white","stroke":"#8c8c8c","strokeWidth":1.5},"encoding":{"theta":{"value":0},"theta2":{"value":6.2832},"radius":{"value":25.5}}},
{"mark":{"type":"point","opacity":0},"encoding":{"x":{"field":"v","type":"quantitative","axis":null},"y":{"field":"v","type":"quantitative","scale":{"domain":[30,70],"range":[72,6],"zero":false,"nice":false},"axis":{"orient":"left","offset":-26,"values":[40,60],"title":"FLAV","titleX":-16,"titleY":27}}}},
{"mark":{"type":"point","opacity":0},"encoding":{"x":{"field":"v","type":"quantitative","axis":null},"y":{"field":"v","type":"quantitative","scale":{"domain":[30,70],"range":[123,189],"zero":false,"nice":false},"axis":{"orient":"left","offset":-26,"values":[40,60],"title":null}}}}
],
"resolve":{"scale":{"y":"independent","angle":"independent"},"axis":{"y":"independent"}}},
{"width":275,"height":195,"data":{"name":"V"},
"title":{"text":"V","anchor":"start","frame":"group","orient":"top","offset":-20,"dx":35},
"layer":[
{"data":{"name":"ringsV"},"mark":{"type":"arc","fillOpacity":0,"stroke":"#c4c4c4","strokeWidth":0.7,"strokeDash":[2,2]},"encoding":{"theta":{"value":0},"theta2":{"value":6.2832},"radius":{"field":"g","type":"quantitative","stack":null,"scale":{"type":"linear","domain":[0.2,1.52],"range":[20.5,92],"zero":false,"nice":false}},"radius2":{"field":"g"}}},
{"mark":{"type":"arc","stroke":"white","strokeWidth":0.8},"encoding":{"theta":{"field":"k","type":"nominal","scale":{"type":"band","domain":["g0","SCK","ST9","ST8","ST7","ST6","ST5","ST4","ST3","ST2","ST1","g1","CCK","CT9","CT8","CT7","CT6","CT5","CT4","CT3","CT2","CT1","g2","RCK","RT9","RT8","RT7","RT6","RT5","RT4","RT3","RT2","RT1","g3","FCK","FT9","FT8","FT7","FT6","FT5","FT4","FT3","FT2","FT1"],"range":[-0.0714,6.2118],"paddingInner":0,"paddingOuter":0}},"radius":{"field":"v","type":"quantitative","stack":null,"scale":{"type":"linear","domain":[0.2,1.52],"range":[20.5,92],"zero":false,"nice":false}},"radius2":{"value":20.5},
"color":{"field":"s","type":"nominal","scale":{"domain":["Seedling stage","Flowering stage","Fruiting stage","Color turning stage"],"range":["#35c0ea","#f9c35d","#4ec79b","#f5767d"]},"legend":{"orient":"none","legendX":203,"legendY":-8,"title":"2025","symbolType":"M-1,-0.5H1V0.5H-1Z","symbolSize":225}}}},
{"mark":{"type":"arc","padAngle":0.6,"stroke":"black","strokeWidth":0.8,"fill":"black"},"encoding":{"theta":{"field":"k","type":"nominal"},"radius":{"field":"lo","type":"quantitative","stack":null},"radius2":{"field":"hi"}}},
{"mark":{"type":"arc","padAngle":0.06,"stroke":"black","strokeWidth":0.8,"fillOpacity":0},"encoding":{"theta":{"field":"k","type":"nominal"},"radius":{"field":"lo","type":"quantitative","stack":null},"radius2":{"field":"lo"}}},
{"mark":{"type":"arc","padAngle":0.06,"stroke":"black","strokeWidth":0.8,"fillOpacity":0},"encoding":{"theta":{"field":"k","type":"nominal"},"radius":{"field":"hi","type":"quantitative","stack":null},"radius2":{"field":"hi"}}},
{"transform":[{"filter":"datum.s == 'Seedling stage' || datum.s == 'Color turning stage'"}],"mark":{"type":"text","align":"left","baseline":"middle","radiusOffset":3,"fontSize":7,"fill":"#333"},"encoding":{"theta":{"field":"k","type":"nominal"},"radius":{"field":"hi","type":"quantitative","stack":null},"angle":{"field":"k","type":"ordinal","scale":{"type":"point","domain":["g0","SCK","ST9","ST8","ST7","ST6","ST5","ST4","ST3","ST2","ST1","g1","CCK","CT9","CT8","CT7","CT6","CT5","CT4","CT3","CT2","CT1","g2","RCK","RT9","RT8","RT7","RT6","RT5","RT4","RT3","RT2","RT1","g3","FCK","FT9","FT8","FT7","FT6","FT5","FT4","FT3","FT2","FT1"],"range":[-94.09,265.91],"padding":0.5}},"text":{"field":"t"}}},
{"transform":[{"filter":"datum.s == 'Fruiting stage' || datum.s == 'Flowering stage'"}],"mark":{"type":"text","align":"right","baseline":"middle","radiusOffset":3,"fontSize":7,"fill":"#333"},"encoding":{"theta":{"field":"k","type":"nominal"},"radius":{"field":"hi","type":"quantitative","stack":null},"angle":{"field":"k","type":"ordinal","scale":{"type":"point","domain":["g0","SCK","ST9","ST8","ST7","ST6","ST5","ST4","ST3","ST2","ST1","g1","CCK","CT9","CT8","CT7","CT6","CT5","CT4","CT3","CT2","CT1","g2","RCK","RT9","RT8","RT7","RT6","RT5","RT4","RT3","RT2","RT1","g3","FCK","FT9","FT8","FT7","FT6","FT5","FT4","FT3","FT2","FT1"],"range":[-274.09,85.91],"padding":0.5}},"text":{"field":"t"}}},
{"data":{"values":[{"h":1}]},"mark":{"type":"arc","fill":"white","stroke":"#8c8c8c","strokeWidth":1.5},"encoding":{"theta":{"value":0},"theta2":{"value":6.2832},"radius":{"value":20.5}}},
{"mark":{"type":"point","opacity":0},"encoding":{"x":{"field":"v","type":"quantitative","axis":null},"y":{"field":"v","type":"quantitative","scale":{"domain":[0.2,1.52],"range":[77,5.5],"zero":false,"nice":false},"axis":{"orient":"left","offset":-28,"values":[0.2,0.4,0.6,0.8,1.0,1.2,1.4],"format":".1f","title":"NBI","titleX":-17,"titleY":31}}}},
{"mark":{"type":"point","opacity":0},"encoding":{"x":{"field":"v","type":"quantitative","axis":null},"y":{"field":"v","type":"quantitative","scale":{"domain":[0.2,1.52],"range":[118,189.5],"zero":false,"nice":false},"axis":{"orient":"left","offset":-28,"values":[0.2,0.4,0.6,0.8,1.0,1.2,1.4],"format":".1f","title":null}}}}
],
"resolve":{"scale":{"y":"independent","angle":"independent"},"axis":{"y":"independent"}}},
{"width":275,"height":195,"data":{"name":"VI"},
"title":{"text":"VI","anchor":"start","frame":"group","orient":"top","offset":-20,"dx":33},
"layer":[
{"data":{"name":"ringsVI"},"mark":{"type":"arc","fillOpacity":0,"stroke":"#c4c4c4","strokeWidth":0.7,"strokeDash":[2,2]},"encoding":{"theta":{"value":0},"theta2":{"value":6.2832},"radius":{"field":"g","type":"quantitative","stack":null,"scale":{"type":"linear","domain":[0.2,1.6],"range":[20.5,91.5],"zero":false,"nice":false}},"radius2":{"field":"g"}}},
{"mark":{"type":"arc","stroke":"white","strokeWidth":0.8},"encoding":{"theta":{"field":"k","type":"nominal","scale":{"type":"band","domain":["g0","SCK","ST9","ST8","ST7","ST6","ST5","ST4","ST3","ST2","ST1","g1","CCK","CT9","CT8","CT7","CT6","CT5","CT4","CT3","CT2","CT1","g2","RCK","RT9","RT8","RT7","RT6","RT5","RT4","RT3","RT2","RT1","g3","FCK","FT9","FT8","FT7","FT6","FT5","FT4","FT3","FT2","FT1"],"range":[-0.0714,6.2118],"paddingInner":0,"paddingOuter":0}},"radius":{"field":"v","type":"quantitative","stack":null,"scale":{"type":"linear","domain":[0.2,1.6],"range":[20.5,91.5],"zero":false,"nice":false}},"radius2":{"value":20.5},
"color":{"field":"s","type":"nominal","scale":{"domain":["Seedling stage","Flowering stage","Fruiting stage","Color turning stage"],"range":["#35c0ea","#f9c35d","#4ec79b","#f5767d"]},"legend":{"orient":"none","legendX":199,"legendY":-7,"title":"2026","symbolType":"M-1,-0.5H1V0.5H-1Z","symbolSize":225}}}},
{"mark":{"type":"arc","padAngle":0.6,"stroke":"black","strokeWidth":0.8,"fill":"black"},"encoding":{"theta":{"field":"k","type":"nominal"},"radius":{"field":"lo","type":"quantitative","stack":null},"radius2":{"field":"hi"}}},
{"mark":{"type":"arc","padAngle":0.06,"stroke":"black","strokeWidth":0.8,"fillOpacity":0},"encoding":{"theta":{"field":"k","type":"nominal"},"radius":{"field":"lo","type":"quantitative","stack":null},"radius2":{"field":"lo"}}},
{"mark":{"type":"arc","padAngle":0.06,"stroke":"black","strokeWidth":0.8,"fillOpacity":0},"encoding":{"theta":{"field":"k","type":"nominal"},"radius":{"field":"hi","type":"quantitative","stack":null},"radius2":{"field":"hi"}}},
{"transform":[{"filter":"datum.s == 'Seedling stage' || datum.s == 'Color turning stage'"}],"mark":{"type":"text","align":"left","baseline":"middle","radiusOffset":3,"fontSize":7,"fill":"#333"},"encoding":{"theta":{"field":"k","type":"nominal"},"radius":{"field":"hi","type":"quantitative","stack":null},"angle":{"field":"k","type":"ordinal","scale":{"type":"point","domain":["g0","SCK","ST9","ST8","ST7","ST6","ST5","ST4","ST3","ST2","ST1","g1","CCK","CT9","CT8","CT7","CT6","CT5","CT4","CT3","CT2","CT1","g2","RCK","RT9","RT8","RT7","RT6","RT5","RT4","RT3","RT2","RT1","g3","FCK","FT9","FT8","FT7","FT6","FT5","FT4","FT3","FT2","FT1"],"range":[-94.09,265.91],"padding":0.5}},"text":{"field":"t"}}},
{"transform":[{"filter":"datum.s == 'Fruiting stage' || datum.s == 'Flowering stage'"}],"mark":{"type":"text","align":"right","baseline":"middle","radiusOffset":3,"fontSize":7,"fill":"#333"},"encoding":{"theta":{"field":"k","type":"nominal"},"radius":{"field":"hi","type":"quantitative","stack":null},"angle":{"field":"k","type":"ordinal","scale":{"type":"point","domain":["g0","SCK","ST9","ST8","ST7","ST6","ST5","ST4","ST3","ST2","ST1","g1","CCK","CT9","CT8","CT7","CT6","CT5","CT4","CT3","CT2","CT1","g2","RCK","RT9","RT8","RT7","RT6","RT5","RT4","RT3","RT2","RT1","g3","FCK","FT9","FT8","FT7","FT6","FT5","FT4","FT3","FT2","FT1"],"range":[-274.09,85.91],"padding":0.5}},"text":{"field":"t"}}},
{"data":{"values":[{"h":1}]},"mark":{"type":"arc","fill":"white","stroke":"#8c8c8c","strokeWidth":1.5},"encoding":{"theta":{"value":0},"theta2":{"value":6.2832},"radius":{"value":20.5}}},
{"mark":{"type":"point","opacity":0},"encoding":{"x":{"field":"v","type":"quantitative","axis":null},"y":{"field":"v","type":"quantitative","scale":{"domain":[0.2,1.6],"range":[77,6],"zero":false,"nice":false},"axis":{"orient":"left","offset":-25,"values":[0.2,0.4,0.6,0.8,1.0,1.2,1.4,1.6],"format":".1f","title":"NBI","titleX":-16,"titleY":31}}}},
{"mark":{"type":"point","opacity":0},"encoding":{"x":{"field":"v","type":"quantitative","axis":null},"y":{"field":"v","type":"quantitative","scale":{"domain":[0.2,1.6],"range":[118,189],"zero":false,"nice":false},"axis":{"orient":"left","offset":-25,"values":[0.2,0.4,0.6,0.8,1.0,1.2,1.4,1.6],"format":".1f","title":null}}}}
],
"resolve":{"scale":{"y":"independent","angle":"independent"},"axis":{"y":"independent"}}}
]
}
